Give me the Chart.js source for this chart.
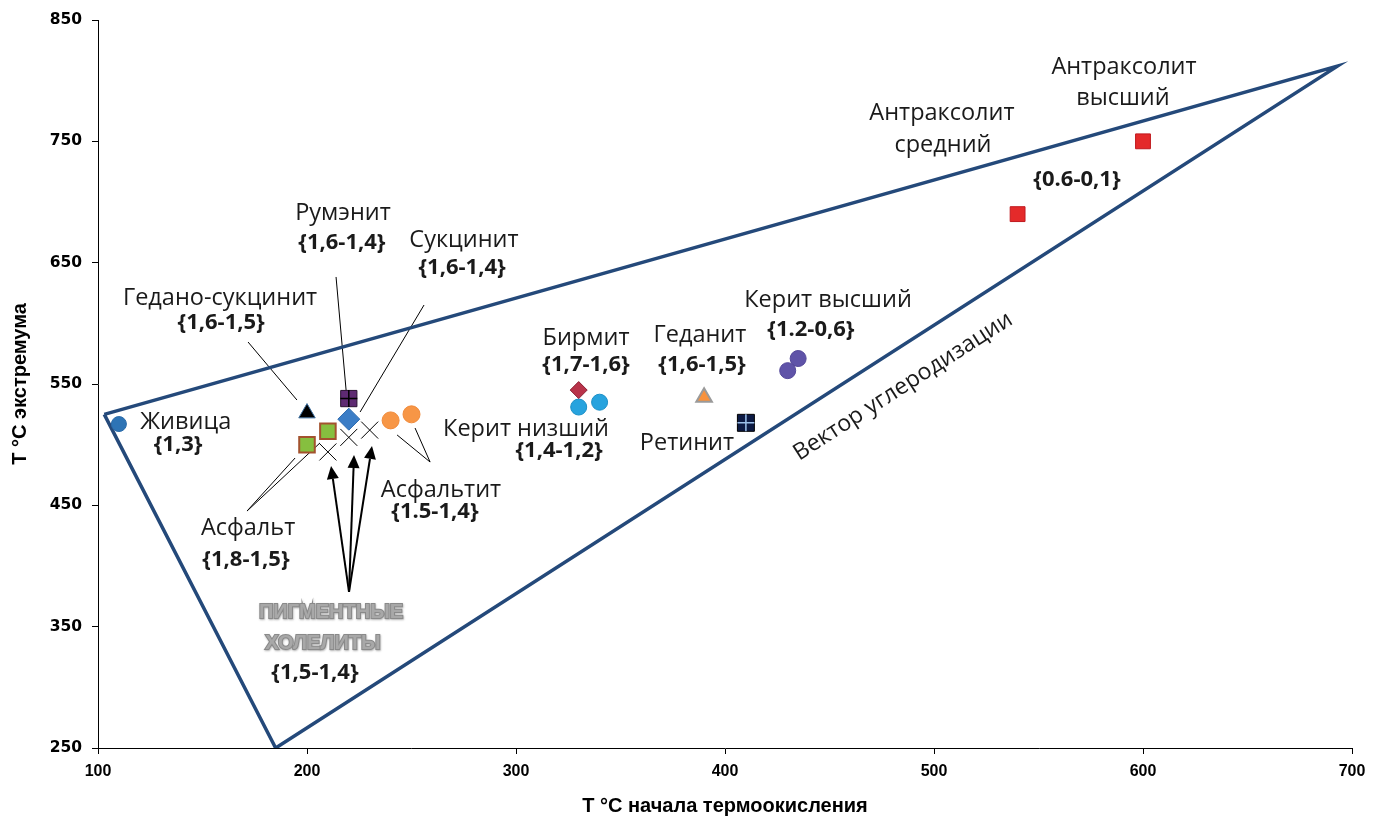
<!DOCTYPE html>
<html lang="ru">
<head>
<meta charset="utf-8">
<title>Т °С экстремума / Т °С начала термоокисления</title>
<script src="https://cdn.jsdelivr.net/npm/chart.js@4.4.1/dist/chart.umd.min.js"></script>
<style>
  html, body { margin: 0; padding: 0; background: #ffffff; }
  #wrap { width: 1382px; height: 823px; position: relative; }
</style>
</head>
<body>
<div id="wrap"><canvas id="chart"></canvas></div>
<script>
// Точки: [T начала термоокисления, T экстремума], °С
const zhivica          = [[110, 517]];
const gedanoSukcinit   = [[200, 526]];
const asfalt           = [[200, 500], [210, 511]];
const rumenit          = [[220, 538]];
const sukcinit         = [[220, 521]];
const asfaltit         = [[240, 520], [250, 525]];
const pigmentCholelity = [[210, 494], [220, 506], [230, 512]];
const birmit           = [[330, 545]];
const keritNizshiy     = [[330, 531], [340, 535]];
const gedanit          = [[390, 539]];
const retinit          = [[410, 518]];
const keritVysshiy     = [[430, 561], [435, 571]];
const antraksolit      = [[540, 690], [600, 750]];

// Контур поля (стороны — вектор углеродизации)
const fieldOutline = [[103, 525], [693, 812], [185, 250], [103, 525]];

// Подписи осей
const xTicks = [100, 200, 300, 400, 500, 600, 700];
const yTicks = [250, 350, 450, 550, 650, 750, 850];
const xTitle = 'Т °С начала термоокисления';
const yTitle = 'Т °С экстремума';

// Названия веществ и точки их привязки (в единицах осей)
const nameTexts   = ['Живица', 'Гедано-сукцинит', 'Румэнит', 'Сукцинит', 'Бирмит', 'Геданит',
                     'Керит высший', 'Керит низший', 'Ретинит', 'Антраксолит', 'средний',
                     'Антраксолит', 'высший', 'Асфальтит', 'Асфальт'];
const nameAnchors = [[142, 518.7], [158.4, 620.9], [217.2, 691], [275.1, 668.7], [333.5, 587.9], [388, 590.4],
                     [449.3, 619.2], [304.8, 512.9], [381.8, 501.4], [503.8, 773.3], [504.3, 747],
                     [590.9, 811.3], [590.4, 785.7], [264.1, 462.6], [171.8, 431.3]];

// Индексы (в фигурных скобках) и точки их привязки
const indexTexts   = ['{1,3}', '{1,6-1,5}', '{1,6-1,4}', '{1,6-1,4}', '{1,7-1,6}', '{1,6-1,5}',
                      '{1.2-0,6}', '{1,4-1,2}', '{0.6-0,1}', '{1.5-1,4}', '{1,8-1,5}', '{1,5-1,4}'];
const indexAnchors = [[138.3, 499.7], [158.9, 600.3], [216.7, 666.2], [274.2, 645.6], [333.5, 565.6], [389, 565.6],
                      [441.1, 594.5], [320.6, 494.8], [568.4, 718.1], [261.2, 444.5], [170.8, 404.9], [203.8, 311.8]];

// Групповая подпись пигментных холелитов
const groupTexts   = ['ПИГМЕНТНЫЕ', 'ХОЛЕЛИТЫ'];
const groupAnchors = [[211.5, 361.3], [207.6, 336.5]];

// Надпись вдоль нижней стороны контура
const vectorText   = 'Вектор углеродизации';
const vectorAnchor = [485.2, 548];

// Выноски: [x1, y1, x2, y2]
const leaderLines = [
  [171.8, 584.6, 195.2, 536.8],
  [213.9, 638.2, 218.7, 545.0],
  [256.0, 615.1, 225.4, 526.9],
  [258.9, 485.7, 243.1, 508.0],
  [258.9, 485.7, 251.7, 513.7],
  [171.3, 445.3, 194.3, 489.0],
  [171.3, 445.3, 206.2, 501.4]
];
// Стрелки к холелитам: [x1, y1, x2, y2], остриё во второй точке
const arrowLines = [
  [220.1, 378.6, 211.5, 482.4],
  [220.1, 378.6, 222.5, 491.5],
  [220.1, 378.6, 231.1, 499.0]
];

const pts = arr => arr.map(([x, y]) => ({ x, y }));

function marker(data, style, radius, fill, border, borderWidth, order) {
  return {
    data: pts(data),
    pointStyle: style,
    pointRadius: radius,
    pointHoverRadius: radius,
    backgroundColor: fill,
    borderColor: border,
    pointBorderWidth: borderWidth,
    borderWidth: borderWidth,
    showLine: false,
    order: order
  };
}

const datasets = [
  {
    data: pts(fieldOutline),
    showLine: true,
    borderColor: '#24497a',
    borderWidth: 3.5,
    pointRadius: 0,
    fill: false,
    tension: 0,
    order: 10
  },
  marker(zhivica,          'circle',   7.5, '#2e74b5', '#2a6aa8', 1, 3),
  marker(gedanoSukcinit,   'triangle', 9.5, '#000000', '#3c6e9e', 1, 3),
  marker(asfalt,           'rect',    11,   '#86bf3f', '#a3522e', 2, 3),
  marker(rumenit,          'rect',    11.5, '#5e2a72', '#2a1232', 1, 3),
  marker(rumenit,          'cross',    8.5, '#000000', '#000000', 1.5, 1),
  marker(sukcinit,         'rectRot', 11,   '#3b7dc6', '#2f6cb0', 1, 3),
  marker(asfaltit,         'circle',   8.5, '#f79646', '#f08a3a', 1, 3),
  marker(pigmentCholelity, 'crossRot', 12,  '#000000', '#000000', 1, 3),
  marker(birmit,           'rectRot',  8.5, '#b8334a', '#8c1f33', 1, 3),
  marker(keritNizshiy,     'circle',   8,   '#27a3de', '#1b8fc6', 1, 3),
  marker(gedanit,          'triangle', 9,   '#f7923e', '#9a9a9a', 2, 3),
  marker(retinit,          'rect',    12,   '#0c1a44', '#000000', 1, 3),
  marker(retinit,          'cross',    8.5, '#9cc0ea', '#9cc0ea', 1.5, 1),
  marker(keritVysshiy,     'circle',   8,   '#5f53a8', '#54489a', 1, 3),
  marker(antraksolit,      'rect',    10.5, '#e42a2a', '#c01a1f', 1, 3)
];

const annotations = {
  id: 'mineralAnnotations',
  beforeDatasetsDraw(chart) {
    const { ctx, scales: { x, y } } = chart;
    ctx.save();
    ctx.strokeStyle = '#000000';
    ctx.fillStyle = '#000000';
    ctx.lineWidth = 1;
    leaderLines.forEach(([x1, y1, x2, y2]) => {
      ctx.beginPath();
      ctx.moveTo(x.getPixelForValue(x1), y.getPixelForValue(y1));
      ctx.lineTo(x.getPixelForValue(x2), y.getPixelForValue(y2));
      ctx.stroke();
    });
    ctx.lineWidth = 2;
    arrowLines.forEach(([x1, y1, x2, y2]) => {
      const ax = x.getPixelForValue(x1), ay = y.getPixelForValue(y1);
      const bx = x.getPixelForValue(x2), by = y.getPixelForValue(y2);
      const ang = Math.atan2(by - ay, bx - ax);
      const head = 13, half = 6;
      const baseX = bx - Math.cos(ang) * head, baseY = by - Math.sin(ang) * head;
      ctx.beginPath();
      ctx.moveTo(ax, ay);
      ctx.lineTo(baseX, baseY);
      ctx.stroke();
      ctx.beginPath();
      ctx.moveTo(bx, by);
      ctx.lineTo(baseX + Math.sin(ang) * half, baseY - Math.cos(ang) * half);
      ctx.lineTo(baseX - Math.sin(ang) * half, baseY + Math.cos(ang) * half);
      ctx.closePath();
      ctx.fill();
    });
    ctx.restore();
  },
  afterDatasetsDraw(chart) {
    const { ctx, scales: { x, y } } = chart;
    ctx.save();
    ctx.textAlign = 'center';
    ctx.textBaseline = 'middle';

    ctx.fillStyle = '#1a1a1a';
    ctx.font = '23.5px "Open Sans", "Noto Sans", sans-serif';
    nameTexts.forEach((t, i) => {
      const [vx, vy] = nameAnchors[i];
      ctx.fillText(t, x.getPixelForValue(vx), y.getPixelForValue(vy));
    });

    ctx.font = 'bold 22px "Open Sans", "Noto Sans", sans-serif';
    indexTexts.forEach((t, i) => {
      const [vx, vy] = indexAnchors[i];
      ctx.fillText(t, x.getPixelForValue(vx), y.getPixelForValue(vy));
    });

    // Рельефная серая подпись группы
    ctx.font = 'bold 20px "Liberation Sans", Arial, sans-serif';
    groupTexts.forEach((t, i) => {
      const [vx, vy] = groupAnchors[i];
      const px = x.getPixelForValue(vx), py = y.getPixelForValue(vy);
      ctx.save();
      ctx.shadowColor = 'rgba(80,80,80,0.45)';
      ctx.shadowBlur = 2;
      ctx.shadowOffsetX = 0.5;
      ctx.shadowOffsetY = 1;
      ctx.lineWidth = 2;
      ctx.strokeStyle = '#8a8a8a';
      ctx.strokeText(t, px, py);
      ctx.restore();
      ctx.fillStyle = '#a8a8a8';
      ctx.fillText(t, px, py);
    });

    // Надпись вдоль вектора углеродизации
    const v0x = x.getPixelForValue(fieldOutline[2][0]), v0y = y.getPixelForValue(fieldOutline[2][1]);
    const v1x = x.getPixelForValue(fieldOutline[1][0]), v1y = y.getPixelForValue(fieldOutline[1][1]);
    const angle = Math.atan2(v1y - v0y, v1x - v0x);
    ctx.save();
    ctx.translate(x.getPixelForValue(vectorAnchor[0]), y.getPixelForValue(vectorAnchor[1]));
    ctx.rotate(angle);
    ctx.fillStyle = '#1a1a1a';
    ctx.font = '23px "Open Sans", "Noto Sans", sans-serif';
    ctx.fillText(vectorText, 0, 0);
    ctx.restore();

    ctx.restore();
  }
};

new Chart(document.getElementById('chart'), {
  type: 'scatter',
  data: { datasets },
  plugins: [annotations],
  options: {
    responsive: true,
    maintainAspectRatio: false,
    animation: false,
    events: [],
    layout: { padding: { top: 20, right: 30, left: 0, bottom: 0 } },
    plugins: {
      legend: { display: false },
      tooltip: { enabled: false },
      title: { display: false }
    },
    scales: {
      x: {
        type: 'linear',
        min: xTicks[0],
        max: xTicks[xTicks.length - 1],
        afterBuildTicks: s => { s.ticks = xTicks.map(v => ({ value: v })); },
        afterFit: s => { s.height = 75; },
        grid: { drawOnChartArea: false, drawTicks: true, tickLength: 6, color: '#000000', lineWidth: 1 },
        border: { color: '#000000', width: 1 },
        ticks: {
          color: '#000000',
          padding: 8,
          maxRotation: 0,
          font: { family: '"Liberation Sans", Arial, sans-serif', size: 16, weight: 'bold' }
        },
        title: {
          display: true,
          text: xTitle,
          color: '#000000',
          padding: { top: 0, bottom: 5 },
          font: { family: '"Liberation Sans", Arial, sans-serif', size: 20, weight: 'bold' }
        }
      },
      y: {
        type: 'linear',
        min: yTicks[0],
        max: yTicks[yTicks.length - 1],
        afterBuildTicks: s => { s.ticks = yTicks.map(v => ({ value: v })); },
        afterFit: s => { s.width = 98; },
        grid: { drawOnChartArea: false, drawTicks: true, tickLength: 6, color: '#000000', lineWidth: 1 },
        border: { color: '#000000', width: 1 },
        ticks: {
          color: '#000000',
          padding: 10,
          font: { family: '"DejaVu Sans", sans-serif', size: 15.5, weight: 'bold' }
        },
        title: {
          display: true,
          text: yTitle,
          color: '#000000',
          padding: { top: 8, bottom: 0 },
          font: { family: '"Liberation Sans", Arial, sans-serif', size: 20, weight: 'bold' }
        }
      }
    }
  }
});
</script>
</body>
</html>
